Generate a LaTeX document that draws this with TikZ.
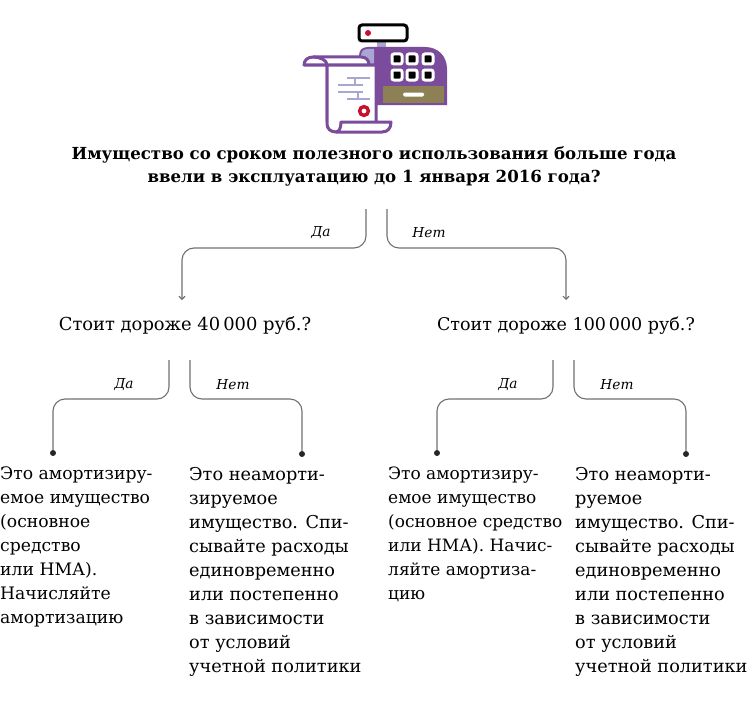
\documentclass[tikz,border=0pt]{standalone}
\usepackage{fontspec}
\setmainfont{DejaVu Serif}
\usetikzlibrary{arrows.meta}
\definecolor{kassa}{HTML}{7B4B9C}
\definecolor{sirень}{HTML}{A9A6D2}
\definecolor{haki}{HTML}{8E8055}
\definecolor{krasn}{HTML}{C8102E}
\definecolor{vetkac}{HTML}{707070}
\tikzset{
    vopros/.style={inner sep=0pt,align=center,font=\fontsize{16.6}{23}\selectfont\bfseries},
    shag/.style={inner sep=0pt,font=\fontsize{17.9}{20}\selectfont},
    otvet/.style={inner sep=0pt,anchor=north west,align=left,font=\fontsize{17.7}{24}\selectfont},
    otvetm/.style={otvet,font=\fontsize{17.2}{24}\selectfont},
    otvets/.style={otvet,font=\fontsize{17}{24}\selectfont},
    metka/.style={inner sep=0pt,font=\fontsize{13.7}{15}\selectfont\itshape},
    vetka/.style={draw=vetkac,line width=1.1pt,rounded corners=12pt},
    tochka/.style={circle,fill=black!85,inner sep=0pt,minimum size=6pt},
    knopka/.style={draw=white,fill=black,line width=3pt,rounded corners=2pt,minimum size=10pt,inner sep=0pt},
    chek/.style={kassa,line width=3pt,line join=round}
}
\begin{document}
\begin{tikzpicture}[x=1pt,y=-1pt]
    \useasboundingbox (0,0) rectangle (749,701);
    % kassa
    \fill[sirень] (377,42) rectangle (386,48);
    \fill[kassa] (359,105) -- (359,56) .. controls (359,50) and (362,47) .. (368,47) -- (425,47) .. controls (438,47) and (447,56) .. (447,69) -- (447,105) -- cycle;
    \fill[sirень] (361,105) -- (361,56) .. controls (361,51) and (364,49) .. (368,49) -- (374,49) -- (374,105) -- cycle;
    \fill[haki] (383,86) rectangle (444,103);
    \fill[white,rounded corners=1.5pt] (403,92.5) rectangle (424,96.5);
    \draw[black,line width=3pt,rounded corners=3pt,fill=white] (359,25) rectangle (407,41);
    \fill[krasn] (368,33) circle (3);
    \node[knopka] (k1) at (397,59) {};
    \node[knopka] (k2) at (412,59) {};
    \node[knopka] (k3) at (428,59) {};
    \node[knopka] (k4) at (397,75) {};
    \node[knopka] (k5) at (412,75) {};
    \node[knopka] (k6) at (428,75) {};
    % chek
    \draw[chek,fill=white] (304,65) .. controls (304,60) and (308,57) .. (313,57) -- (361,57) .. controls (366,57) and (369,60) .. (369,65) -- (369,122) -- (327,122) -- (327,65) -- cycle;
    \draw[chek] (313,57) .. controls (320,57) and (327,60) .. (327,65);
    \draw[chek,fill=white] (327,65) -- (376,65) -- (376,122) -- (391,122) .. controls (391,128) and (388,132) .. (382,132) -- (336,132) .. controls (331,132) and (327,129) .. (327,124) -- cycle;
    \draw[chek] (376,122) -- (341,122) .. controls (341,128) and (339,132) .. (336,132);
    \draw[sirень,line width=2.6pt] (347,78) -- (370,78) (338,85) -- (363,85) (338,92) -- (363,92) (347,99) -- (370,99) (355,78) -- (355,85) (358,92) -- (358,99);
    \draw[krasn,line width=3.4pt] (364,111) circle (4.4);
    % texty
    \node[vopros] (vopr) at (374,166) {Имущество со сроком полезного использования больше года\\ввели в эксплуатацию до 1 января 2016 года?};
    \node[shag] (st1) at (185,325.5) {Стоит дороже 40\,000 руб.?};
    \node[shag,font=\fontsize{17.5}{20}\selectfont] (st2) at (566,325.5) {Стоит дороже 100\,000 руб.?};
    \node[otvetm] (ot1) at (0,467) {Это амортизиру-\\емое имущество\\(основное\\средство\\или НМА).\\Начисляйте\\амортизацию};
    \node[otvet] (ot2) at (189,467) {Это неаморти-\\зируемое\\имущество. Спи-\\сывайте расходы\\единовременно\\или постепенно\\в зависимости\\от условий\\учетной политики};
    \node[otvets] (ot3) at (388,467) {Это амортизиру-\\емое имущество\\(основное средство\\или НМА). Начис-\\ляйте амортиза-\\цию};
    \node[otvet] (ot4) at (575,467) {Это неаморти-\\руемое\\имущество. Спи-\\сывайте расходы\\единовременно\\или постепенно\\в зависимости\\от условий\\учетной политики};
    % tochki
    \node[tochka] (t1) at (53,453) {};
    \node[tochka] (t2) at (302,454) {};
    \node[tochka] (t3) at (437,453) {};
    \node[tochka] (t4) at (686,454) {};
    % nachala
    \coordinate (n0a) at (366,209);
    \coordinate (n0b) at (387,209);
    \coordinate (v1) at (182,300);
    \coordinate (v2) at (566,300);
    \coordinate (n1a) at (169,360);
    \coordinate (n1b) at (190,360);
    \coordinate (n2a) at (553,360);
    \coordinate (n2b) at (574,360);
    \draw[vetka,-{Straight Barb[length=3pt,width=6pt]}] (n0a) -- ++(0,39) -| (v1);
    \draw[vetka,-{Straight Barb[length=3pt,width=6pt]}] (n0b) -- ++(0,39) -| (v2);
    \draw[vetka] (n1a) -- ++(0,39) -| (t1);
    \draw[vetka] (n1b) -- ++(0,39) -| (t2);
    \draw[vetka] (n2a) -- ++(0,39) -| (t3);
    \draw[vetka] (n2b) -- ++(0,39) -| (t4);
    \node[metka] (m1) at (321,233) {Да};
    \node[metka] (m2) at (429,233) {Нет};
    \node[metka] (m3) at (124,385) {Да};
    \node[metka] (m4) at (233,385) {Нет};
    \node[metka] (m5) at (508,385) {Да};
    \node[metka] (m6) at (617,385) {Нет};
\end{tikzpicture}
\end{document}
